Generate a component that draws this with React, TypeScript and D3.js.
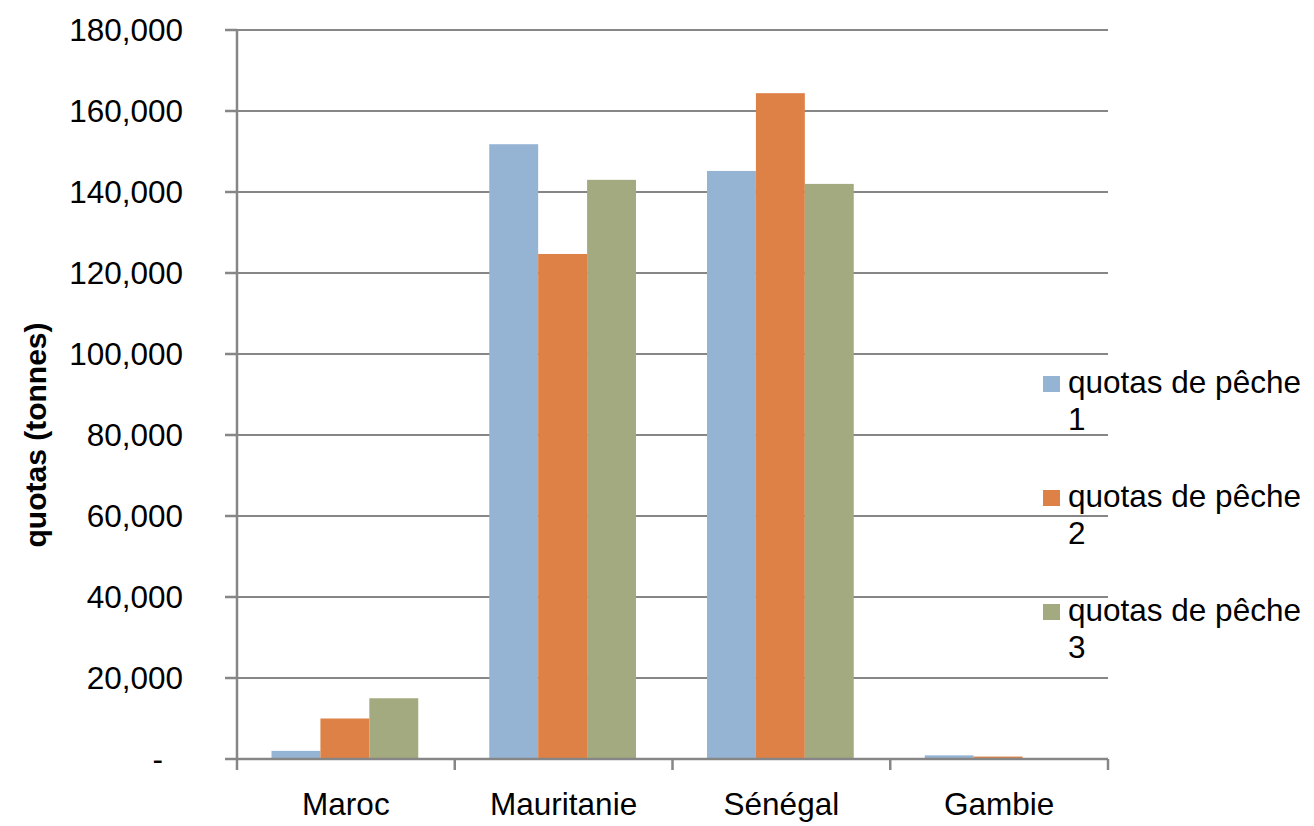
import * as d3 from "d3";
import { useEffect, useRef } from "react";

const countries = ["Maroc", "Mauritanie", "Sénégal", "Gambie"];
const seriesNames = ["quotas de pêche 1", "quotas de pêche 2", "quotas de pêche 3"];
const quotas1 = [2000, 151800, 145200, 900];
const quotas2 = [10000, 124700, 164400, 600];
const quotas3 = [15000, 143000, 142000, 0];
const yTicks = [0, 20000, 40000, 60000, 80000, 100000, 120000, 140000, 160000, 180000];
const colors = ["#95B4D3", "#DE8146", "#A4AA7F"];

export default function App() {
  const ref = useRef(null);
  const width = 1314;
  const height = 826;
  const margin = { left: 237, right: 206, top: 30, bottom: 67 };

  useEffect(() => {
    draw();
  });

  function draw() {
    const svg = d3.select(ref.current);
    svg.selectAll("*").remove();
    const font = "'Liberation Sans', Arial, sans-serif";
    const grid = "#868686";

    const x0 = d3
      .scaleBand()
      .domain(countries)
      .range([margin.left, width - margin.right])
      .paddingInner(0.326)
      .paddingOuter(0.163);
    const x1 = d3
      .scaleBand()
      .domain(["0", "1", "2"])
      .range([0, x0.bandwidth()]);
    const y = d3
      .scaleLinear()
      .domain([0, 180000])
      .range([height - margin.bottom, margin.top]);

    const plotLeft = margin.left;
    const plotRight = width - margin.right;
    const base = y(0);

    // gridlines
    svg
      .append("g")
      .selectAll("line")
      .data(yTicks.filter((d) => d > 0))
      .enter()
      .append("line")
      .attr("x1", plotLeft)
      .attr("x2", plotRight)
      .attr("y1", (d) => y(d))
      .attr("y2", (d) => y(d))
      .attr("stroke", grid)
      .attr("stroke-width", 2);

    // bars
    const series = [quotas1, quotas2, quotas3];
    series.forEach((vals, si) => {
      svg
        .append("g")
        .selectAll("rect")
        .data(vals)
        .enter()
        .append("rect")
        .attr("x", (_, i) => (x0(countries[i]) as number) + (x1(String(si)) as number) - 1)
        .attr("width", x1.bandwidth())
        .attr("y", (d) => y(d))
        .attr("height", (d) => base - y(d))
        .attr("fill", colors[si]);
    });

    // axes
    svg
      .append("line")
      .attr("x1", plotLeft)
      .attr("x2", plotRight)
      .attr("y1", base)
      .attr("y2", base)
      .attr("stroke", grid)
      .attr("stroke-width", 2.5);
    svg
      .append("line")
      .attr("x1", plotLeft)
      .attr("x2", plotLeft)
      .attr("y1", margin.top)
      .attr("y2", base + 11)
      .attr("stroke", grid)
      .attr("stroke-width", 2.5);

    // y tick marks
    svg
      .append("g")
      .selectAll("line")
      .data(yTicks)
      .enter()
      .append("line")
      .attr("x1", plotLeft - 12)
      .attr("x2", plotLeft)
      .attr("y1", (d) => y(d))
      .attr("y2", (d) => y(d))
      .attr("stroke", grid)
      .attr("stroke-width", 2.5);

    // x tick marks at category boundaries
    const bounds = countries.map((c) => (x0(c) as number) - (x0.step() * 0.326) / 2);
    bounds.push(plotRight);
    svg
      .append("g")
      .selectAll("line")
      .data(bounds.slice(1))
      .enter()
      .append("line")
      .attr("x1", (d) => d)
      .attr("x2", (d) => d)
      .attr("y1", base)
      .attr("y2", base + 11)
      .attr("stroke", grid)
      .attr("stroke-width", 2.5);

    // y tick labels
    svg
      .append("g")
      .selectAll("text")
      .data(yTicks)
      .enter()
      .append("text")
      .attr("x", (d) => (d === 0 ? 163 : 183))
      .attr("y", (d) => y(d) + 11)
      .attr("text-anchor", "end")
      .attr("font-family", font)
      .attr("font-size", 31.5)
      .attr("fill", "#000")
      .text((d) => (d === 0 ? "-" : d3.format(",")(d)));

    // x labels
    svg
      .append("g")
      .selectAll("text")
      .data(countries)
      .enter()
      .append("text")
      .attr("x", (d) => (x0(d) as number) + x0.bandwidth() / 2)
      .attr("y", 815)
      .attr("text-anchor", "middle")
      .attr("font-family", font)
      .attr("font-size", 31.5)
      .attr("fill", "#000")
      .text((d) => d);

    // y axis title
    svg
      .append("text")
      .attr("transform", "translate(46,435) rotate(-90)")
      .attr("text-anchor", "middle")
      .attr("font-family", font)
      .attr("font-size", 30)
      .attr("font-weight", 700)
      .attr("fill", "#000")
      .text("quotas (tonnes)");

    // legend
    const legend = svg
      .append("g")
      .selectAll("g")
      .data(seriesNames)
      .enter()
      .append("g")
      .attr("transform", (_, i) => "translate(1043," + (376 + i * 114) + ")");
    legend
      .append("rect")
      .attr("width", 17)
      .attr("height", 16)
      .attr("fill", (_, i) => colors[i]);
    const lt = legend
      .append("text")
      .attr("font-family", font)
      .attr("font-size", 31.5)
      .attr("fill", "#000");
    lt.append("tspan")
      .attr("x", 25)
      .attr("y", 17)
      .text((d) => d.slice(0, d.lastIndexOf(" ")));
    lt.append("tspan")
      .attr("x", 25)
      .attr("y", 54)
      .text((d) => d.slice(d.lastIndexOf(" ") + 1));
  }

  return (
    <svg
      ref={ref}
      width={width}
      height={height}
      style={{ position: "absolute", left: 0, top: 0, background: "#fff" }}
    ></svg>
  );
}
